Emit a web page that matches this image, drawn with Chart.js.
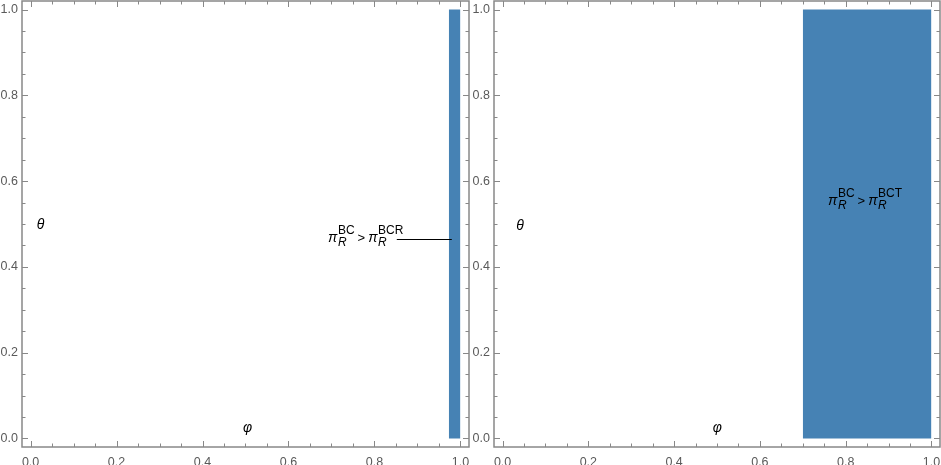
<!DOCTYPE html>
<html>
<head>
<meta charset="utf-8">
<script src="https://cdn.jsdelivr.net/npm/chart.js@4"></script>
<style>
  body { margin: 0; background: #fff; }
  .panel { position: absolute; top: 0; height: 465px; }
</style>
</head>
<body>
<div class="panel" style="left:0;width:470px"><canvas id="graph1" width="470" height="465"></canvas></div>
<div class="panel" style="left:470px;width:471px"><canvas id="graph2" width="471" height="465"></canvas></div>
<script>
// axis ticks (both panels use the same ones)
const phiTicks = [0, 0.2, 0.4, 0.6, 0.8, 1.0];
const thetaTicks = [0, 0.2, 0.4, 0.6, 0.8, 1.0];
const minorStep = 0.05;

// region where the inequality holds: phi from..to, theta up to
const regionBCR_phi = [0.973, 1.0];
const regionBCR_theta = [1.0, 1.0];
const regionBCT_phi = [0.70, 1.0];
const regionBCT_theta = [1.0, 1.0];

const frameColor = '#888888';
const labelColor = '#5a5a5a';
const fillColor = '#4682b4';

function toPoints(xs, ys) {
  let pts = [];
  for (let i = 0; i < xs.length; i++) pts.push({x: xs[i], y: ys[i]});
  return pts;
}

// pi_R^BC > pi_R^<tag>, x = left edge, y = baseline
function drawExpr(ctx, x, y, tag) {
  let cx = x;
  ctx.fillStyle = '#000';
  ctx.textAlign = 'left';
  ctx.textBaseline = 'alphabetic';
  function piR(sup) {
    ctx.font = 'italic 14px "Liberation Sans"';
    ctx.fillText('\u03c0', cx, y);
    cx += ctx.measureText('\u03c0').width + 0.5;
    ctx.font = 'italic 12px "Liberation Sans"';
    let wr = ctx.measureText('R').width;
    ctx.fillText('R', cx, y + 4);
    ctx.font = '12px "Liberation Sans"';
    let ws = ctx.measureText(sup).width;
    ctx.fillText(sup, cx, y - 8.5);
    cx += Math.max(wr, ws);
  }
  piR('BC');
  cx += 3;
  ctx.font = '13px "Liberation Sans"';
  ctx.fillText('>', cx, y - 0.5);
  cx += ctx.measureText('>').width + 3;
  piR(tag);
}

const framePlugin = {
  id: 'frame',
  afterDraw(chart, args, opts) {
    const ctx = chart.ctx;
    const a = chart.chartArea;
    const xs = chart.scales.x, ys = chart.scales.y;
    ctx.save();
    ctx.strokeStyle = frameColor;
    ctx.lineWidth = 1.5;
    ctx.strokeRect(a.left, a.top, a.right - a.left, a.bottom - a.top);
    ctx.lineWidth = 1;
    ctx.beginPath();
    for (let v = 0; v <= 1.0001; v += minorStep) {
      let major = Math.abs(v / 0.2 - Math.round(v / 0.2)) < 1e-6;
      let len = major ? 6 : 3.5;
      let px = Math.round(xs.getPixelForValue(v)) + 0.5;
      ctx.moveTo(px, a.bottom); ctx.lineTo(px, a.bottom - len);
      ctx.moveTo(px, a.top); ctx.lineTo(px, a.top + len);
      let py = Math.round(ys.getPixelForValue(v)) + 0.5;
      ctx.moveTo(a.left, py); ctx.lineTo(a.left + len, py);
      ctx.moveTo(a.right, py); ctx.lineTo(a.right - len, py);
    }
    ctx.stroke();

    // axis symbols
    ctx.fillStyle = '#000';
    ctx.font = 'italic 14px "Liberation Sans"';
    ctx.textAlign = 'center';
    ctx.textBaseline = 'middle';
    ctx.fillText('\u03b8', xs.getPixelForValue(opts.theta[0]), ys.getPixelForValue(opts.theta[1]));
    ctx.fillText('\u03c6', xs.getPixelForValue(opts.phi[0]), ys.getPixelForValue(opts.phi[1]));

    drawExpr(ctx, xs.getPixelForValue(opts.expr[0]), ys.getPixelForValue(opts.expr[1]), opts.tag);
    if (opts.callout) {
      ctx.strokeStyle = '#000';
      ctx.lineWidth = 1;
      let cy = Math.round(ys.getPixelForValue(opts.callout[2])) + 0.5;
      ctx.beginPath();
      ctx.moveTo(xs.getPixelForValue(opts.callout[0]), cy);
      ctx.lineTo(xs.getPixelForValue(opts.callout[1]), cy);
      ctx.stroke();
    }
    ctx.restore();
  }
};

function makeChart(id, phi, theta, axisWidth, marks) {
  var ctx = document.getElementById(id).getContext('2d');
  return new Chart(ctx, {
    type: 'line',
    data: {
      datasets: [{
        data: toPoints(phi, theta),
        fill: 'origin',
        backgroundColor: fillColor,
        borderColor: 'rgba(0,0,0,0)',
        borderWidth: 0,
        pointRadius: 0,
        tension: 0
      }]
    },
    options: {
      responsive: false,
      animation: false,
      layout: { padding: { top: 1, right: 1, left: 0, bottom: 0 } },
      scales: {
        x: {
          type: 'linear',
          min: -0.02,
          max: 1.02,
          grid: { display: false, drawTicks: false },
          border: { display: false },
          ticks: {
            padding: 8,
            color: labelColor,
            font: { family: '"Liberation Sans"', size: 12.5 },
            maxRotation: 0,
            callback: v => v.toFixed(1)
          },
          afterBuildTicks: s => { s.ticks = phiTicks.map(v => ({value: v})); },
          afterFit: s => { s.height = 18; s.paddingLeft = 0; s.paddingRight = 0; }
        },
        y: {
          type: 'linear',
          min: -0.02,
          max: 1.02,
          grid: { display: false, drawTicks: false },
          border: { display: false },
          ticks: {
            padding: 4,
            color: labelColor,
            font: { family: '"Liberation Sans"', size: 12.5 },
            callback: v => v.toFixed(1)
          },
          afterBuildTicks: s => { s.ticks = thetaTicks.map(v => ({value: v})); },
          afterFit: s => { s.width = axisWidth; s.paddingTop = 0; s.paddingBottom = 0; }
        }
      },
      plugins: {
        legend: { display: false },
        tooltip: { enabled: false },
        frame: marks
      }
    },
    plugins: [framePlugin]
  });
}

var graph1 = makeChart('graph1', regionBCR_phi, regionBCR_theta, 22, {
  theta: [0.023, 0.498],
  phi: [0.505, 0.024],
  expr: [0.692, 0.458],
  tag: 'BCR',
  callout: [0.852, 0.98, 0.464]
});

var graph2 = makeChart('graph2', regionBCT_phi, regionBCT_theta, 24, {
  theta: [0.041, 0.495],
  phi: [0.501, 0.024],
  expr: [0.759, 0.544],
  tag: 'BCT',
  callout: null
});
</script>
</body>
</html>
